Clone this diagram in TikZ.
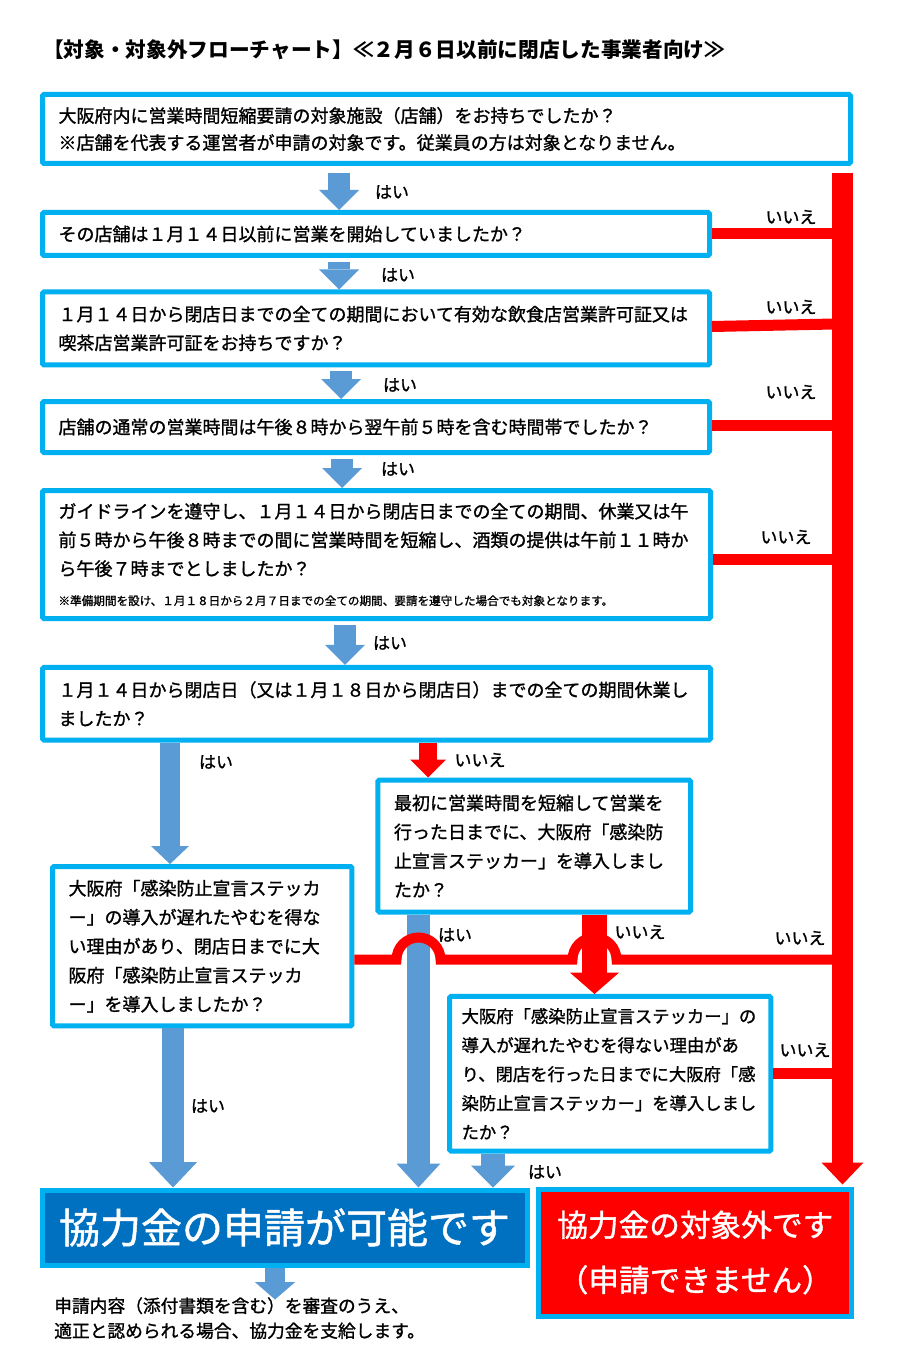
\documentclass[tikz,border=0pt]{standalone}
\usepackage{fontspec}
\setmainfont{Noto Sans CJK JP}
\newfontfamily\mfont{Noto Sans CJK JP}[FakeBold=1.2]
\usetikzlibrary{arrows.meta,calc}
\definecolor{cyanB}{HTML}{00B0F0}
\definecolor{blueA}{HTML}{5B9BD5}
\definecolor{redA}{HTML}{FF0000}
\definecolor{blueF}{HTML}{0070C0}
\begin{document}
\begin{tikzpicture}[x=0.75pt,y=-0.75pt,
  box/.style={draw=cyanB,line width=3.75pt,fill=white,inner xsep=12pt,inner ysep=0pt,
    align=left,rounded corners=1pt,font=\mfont\fontsize{13.5pt}{21.5pt}\selectfont},
  lbl/.style={font=\mfont\fontsize{12.75pt}{15pt}\selectfont,inner sep=0pt},
  bluearr/.style n args={3}{draw=blueA,line width=#1,-{Triangle[width=#2,length=#3,line width=0pt]}},
  redarr/.style n args={3}{draw=redA,line width=#1,-{Triangle[width=#2,length=#3,line width=0pt]}},
  redline/.style={draw=redA,line width=8.25pt}]
\useasboundingbox (0,0) rectangle (898,1358);
\fill[white] (0,0) rectangle (898,1358);

% title
\node[anchor=west,inner sep=0pt,font=\bfseries\fontsize{15.5pt}{18pt}\selectfont] (title) at (43,50)
  {【対象・対象外フローチャート】≪２月６日以前に閉店した事業者向け≫};

% boxes
\node[box,text width=582pt,minimum height=51.75pt,font=\mfont\fontsize{13.5pt}{20.25pt}\selectfont] (b1) at (446.5,129)
  {大阪府内に営業時間短縮要請の対象施設（店舗）をお持ちでしたか？\\※店舗を代表する運営者が申請の対象です。従業員の方は対象となりません。};
\node[box,text width=476.25pt,minimum height=32.25pt] (b2) at (376,234)
  {その店舗は１月１４日以前に営業を開始していましたか？};
\node[box,text width=476.25pt,minimum height=54.75pt] (b3) at (376,328.5)
  {１月１４日から閉店日までの全ての期間において有効な飲食店営業許可証又は\\喫茶店営業許可証をお持ちですか？};
\node[box,text width=476.25pt,minimum height=38.25pt] (b4) at (376,427)
  {店舗の通常の営業時間は午後８時から翌午前５時を含む時間帯でしたか？};
\node[box,text width=477pt,minimum height=96pt] (b5) at (376.5,554.5)
  {ガイドラインを遵守し、１月１４日から閉店日までの全ての期間、休業又は午\\前５時から午後８時までの間に営業時間を短縮し、酒類の提供は午前１１時か\\ら午後７時までとしましたか？\\[0.75pt]{\fontsize{8.7pt}{21.5pt}\selectfont ※準備期間を設け、１月１８日から２月７日までの全ての期間、要請を遵守した場合でも対象となります。}};
\node[box,text width=477pt,minimum height=54.4pt] (b6) at (376.5,703.75)
  {１月１４日から閉店日（又は１月１８日から閉店日）までの全ての期間休業し\\ましたか？};
\node[box,text width=210.4pt,minimum height=99pt,font=\mfont\fontsize{13.5pt}{21.75pt}\selectfont] (b7) at (534.25,846)
  {最初に営業時間を短縮して営業を\\行った日までに、大阪府「感染防\\止宣言ステッカー」を導入しまし\\たか？};
\node[box,text width=200.6pt,minimum height=119.6pt,font=\mfont\fontsize{13.5pt}{21.75pt}\selectfont] (b8) at (202.25,946.25)
  {大阪府「感染防止宣言ステッカ\\ー」の導入が遅れたやむを得な\\い理由があり、閉店日までに大\\阪府「感染防止宣言ステッカ\\ー」を導入しましたか？};
\node[box,inner xsep=9pt,text width=223pt,minimum height=115.9pt,font=\mfont\fontsize{13pt}{21.75pt}\selectfont] (b9) at (610.25,1073.75)
  {大阪府「感染防止宣言ステッカー」の\\導入が遅れたやむを得ない理由があ\\り、閉店を行った日までに大阪府「感\\染防止宣言ステッカー」を導入しまし\\たか？};

% results
\node[draw=cyanB,line width=3.75pt,fill=blueF,text=white,minimum width=363.75pt,minimum height=56.25pt,
  inner sep=0pt,font=\mfont\fontsize{30.75pt}{36pt}\selectfont] (ok) at (284.5,1227.5) {協力金の申請が可能です};
\node[draw=cyanB,line width=3.75pt,fill=redA,text=white,minimum width=234.4pt,minimum height=95.25pt,
  inner sep=0pt,align=center,font=\mfont\fontsize{23pt}{41.25pt}\selectfont] (ng) at (695.25,1252.5)
  {協力金の対象外です\\（申請できません）};

% bottom note
\node[anchor=north west,inner sep=0pt,align=left,font=\mfont\fontsize{13.3pt}{18.75pt}\selectfont] (pay) at (54,1297)
  {申請内容（添付書類を含む）を審査のうえ、\\適正と認められる場合、協力金を支給します。};

% column coordinates
\coordinate (c1) at (339,0);
\coordinate (c3) at (341,0);
\coordinate (c4) at (342,0);
\coordinate (c5) at (345,0);
\coordinate (cL) at (170,0);
\coordinate (cR6) at (428,0);
\coordinate (cM) at (418.5,0);
\coordinate (cL2) at (173,0);
\coordinate (cR7) at (594.5,0);
\coordinate (c9) at (493,0);
\coordinate (cO) at (275,0);
\coordinate (xr) at (842.5,0);
\coordinate (h1) at (396.5,959.5);
\coordinate (h2) at (572.5,959.5);

% blue yes-arrows
\draw[bluearr={16.5pt}{30pt}{15pt},shorten <=5pt] (b1.south -| c1) -- (b2.north -| c1);
\draw[bluearr={16.5pt}{30pt}{15pt},shorten <=3pt] (b2.south -| c1) -- (b3.north -| c1);
\draw[bluearr={16.5pt}{30pt}{15pt},shorten <=3pt] (b3.south -| c3) -- (b4.north -| c3);
\draw[bluearr={16.5pt}{30pt}{15pt},shorten <=3pt] (b4.south -| c4) -- (b5.north -| c4);
\draw[bluearr={16.5pt}{30pt}{15pt},shorten <=3pt] (b5.south -| c5) -- (b6.north -| c5);
\draw[bluearr={15pt}{28.5pt}{13.5pt}] (b6.south -| cL) -- (b8.north -| cL);
\draw[bluearr={17.25pt}{33pt}{18pt}] (b7.south -| cM) -- (ok.north -| cM);
\draw[bluearr={16.5pt}{36pt}{19pt}] (b8.south -| cL2) -- (ok.north -| cL2);
\draw[bluearr={18pt}{33pt}{16.5pt}] (b9.south -| c9) -- (ok.north -| c9);
\draw[bluearr={15pt}{30pt}{13pt}] (ok.south -| cO) -- ([yshift=-24pt]ok.south -| cO);

% red no-arrows
\draw[redarr={13.5pt}{27pt}{13.5pt}] (b6.south -| cR6) -- (b7.north -| cR6);
\draw[redline] ([yshift=1.5pt]b3.east) -- ([yshift=3.5pt]b3.east -| xr);
\draw[redline] (b2.east) -- (b2.east -| xr);
\draw[redline] ([yshift=1pt]b4.east) -- ([yshift=1pt]b4.east -| xr);
\draw[redline] ([yshift=-4pt]b5.east) -- ([yshift=-4pt]b5.east -| xr);
\draw[redline] (b9.east) -- (b9.east -| xr);
\draw[redarr={18.75pt}{36.75pt}{16pt}] (b7.south -| cR7) -- (b9.north -| cR7);
\draw[redA,line width=7.5pt] ([yshift=-10pt]b8.east) -- (h1)
  arc[start angle=180,end angle=0,radius=16.5pt] -- (h2)
  arc[start angle=180,end angle=0,radius=16.5pt] -- (h1 -| xr);
\draw[redarr={15.75pt}{31.5pt}{16.5pt},shorten <=5pt,shorten >=1.5pt] (b1.south -| xr) -- (ng.north -| xr);

% labels
\node[lbl] (y1) at (392,192) {はい};
\node[lbl] (y2) at (398,275) {はい};
\node[lbl] (y3) at (400,385) {はい};
\node[lbl] (y4) at (398,469) {はい};
\node[lbl] (y5) at (390,643) {はい};
\node[lbl] (y6) at (216,762) {はい};
\node[lbl] (y7) at (455,935) {はい};
\node[lbl] (y8) at (208,1106) {はい};
\node[lbl] (y9) at (545,1172) {はい};
\node[lbl] (n2) at (791,217) {いいえ};
\node[lbl] (n3) at (791,307) {いいえ};
\node[lbl] (n4) at (791,392) {いいえ};
\node[lbl] (n5) at (786,537) {いいえ};
\node[lbl] (n6) at (480,760) {いいえ};
\node[lbl] (n7) at (640,932) {いいえ};
\node[lbl] (n8) at (800,938) {いいえ};
\node[lbl] (n9) at (805,1050) {いいえ};
\end{tikzpicture}
\end{document}
